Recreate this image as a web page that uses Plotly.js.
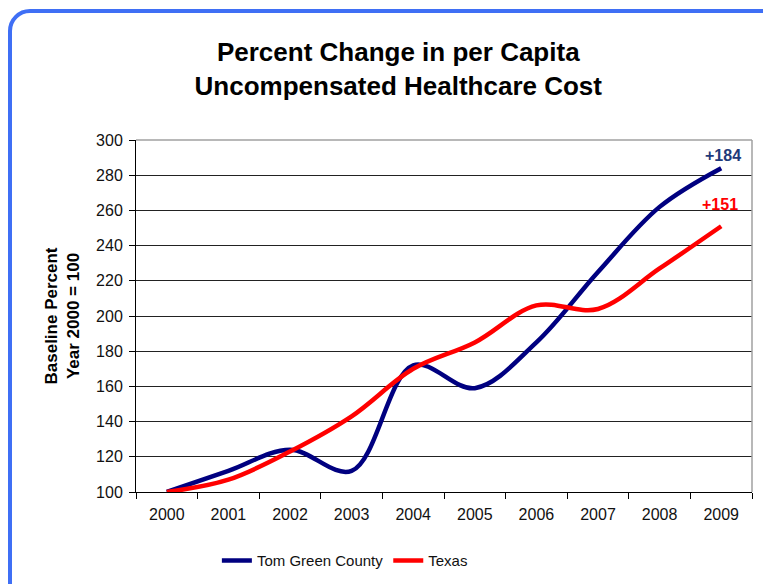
<!DOCTYPE html>
<html>
<head>
<meta charset="utf-8">
<script src="https://cdn.plot.ly/plotly-3.0.1.min.js"></script>
<style>
  html, body { margin: 0; padding: 0; background: #ffffff; overflow: hidden; }
  #frame { position: absolute; left: 8px; top: 9px; width: 790px; height: 620px;
           border: 4px solid #3f6ff5; border-radius: 22px; box-sizing: border-box; }
  #chart { position: absolute; left: 0; top: 0; width: 763px; height: 584px; }
</style>
</head>
<body>
<div id="frame"></div>
<div id="chart"></div>
<script>
const years = ["2000","2001","2002","2003","2004","2005","2006","2007","2008","2009"];
const tomGreen = [100, 112, 124, 112, 172, 159, 185, 225, 262, 284];
const texas = [100, 107, 123, 143, 170, 185, 206, 204, 227, 251];
const yTicks = [100, 120, 140, 160, 180, 200, 220, 240, 260, 280, 300];
const labelTom = "+184";
const labelTexas = "+151";

const font = "'Liberation Sans', Arial, sans-serif";
const lastIdx = years.length - 1;

const traces = [
  { x: years, y: tomGreen, name: "Tom Green County", type: "scatter", mode: "lines",
    line: { color: "#000080", width: 4.5, shape: "spline", smoothing: 1 } },
  { x: years, y: texas, name: "Texas", type: "scatter", mode: "lines",
    line: { color: "#ff0000", width: 4.5, shape: "spline", smoothing: 1 } }
];

const layout = {
  width: 763, height: 584,
  paper_bgcolor: "rgba(0,0,0,0)", plot_bgcolor: "rgba(0,0,0,0)",
  margin: { l: 136, r: 11, t: 140, b: 92 },
  font: { family: font, color: "#111111" },
  title: { text: "<b>Percent Change in per Capita<br>Uncompensated Healthcare Cost</b>",
           font: { family: font, size: 26, color: "#000000" },
           x: 0.522, xanchor: "center", y: 0.895, yanchor: "middle" },
  xaxis: { type: "category", range: [-0.5, 9.5], tickson: "boundaries",
           ticks: "outside", ticklen: 6, tickcolor: "#000", showline: true, linecolor: "#000", linewidth: 1,
           showgrid: false, tickfont: { size: 16, color: "#111" }, ticklabelstandoff: 8, fixedrange: true },
  yaxis: { range: [100, 300], tickvals: yTicks, ticktext: yTicks.map(String),
           ticks: "outside", ticklen: 6, tickcolor: "#000", showline: true, linecolor: "#000", linewidth: 1,
           showgrid: true, gridcolor: "#222", gridwidth: 1, zeroline: false,
           tickfont: { size: 16, color: "#111" }, ticklabelstandoff: 3,
           title: { text: "<b>Baseline Percent<br>Year 2000 = 100</b>", font: { size: 17, color: "#000" }, standoff: 12 } },
  showlegend: true,
  legend: { orientation: "h", xref: "container", yref: "container", x: 0.452, xanchor: "center",
            y: 0.04, yanchor: "middle", font: { size: 15, color: "#111" }, itemwidth: 30, bgcolor: "rgba(0,0,0,0)" },
  shapes: [
    { type: "line", xref: "paper", yref: "paper", x0: 0, x1: 1, y0: 1, y1: 1, layer: "above", line: { color: "#a0a0a0", width: 1.5 } },
    { type: "line", xref: "paper", yref: "paper", x0: 1, x1: 1, y0: 0, y1: 1, layer: "above", line: { color: "#a0a0a0", width: 1.5 } }
  ],
  annotations: [
    { xref: "x", yref: "y", x: lastIdx, y: tomGreen[lastIdx], text: "<b>" + labelTom + "</b>", showarrow: false, yshift: 13, xshift: 2,
      font: { size: 16, color: "#1f3a7a", family: font } },
    { xref: "x", yref: "y", x: lastIdx, y: texas[lastIdx], text: "<b>" + labelTexas + "</b>", showarrow: false, yshift: 22, xshift: -1,
      font: { size: 16, color: "#ff0000", family: font } }
  ]
};

Plotly.newPlot("chart", traces, layout, { displayModeBar: false, staticPlot: true });
</script>
</body>
</html>
